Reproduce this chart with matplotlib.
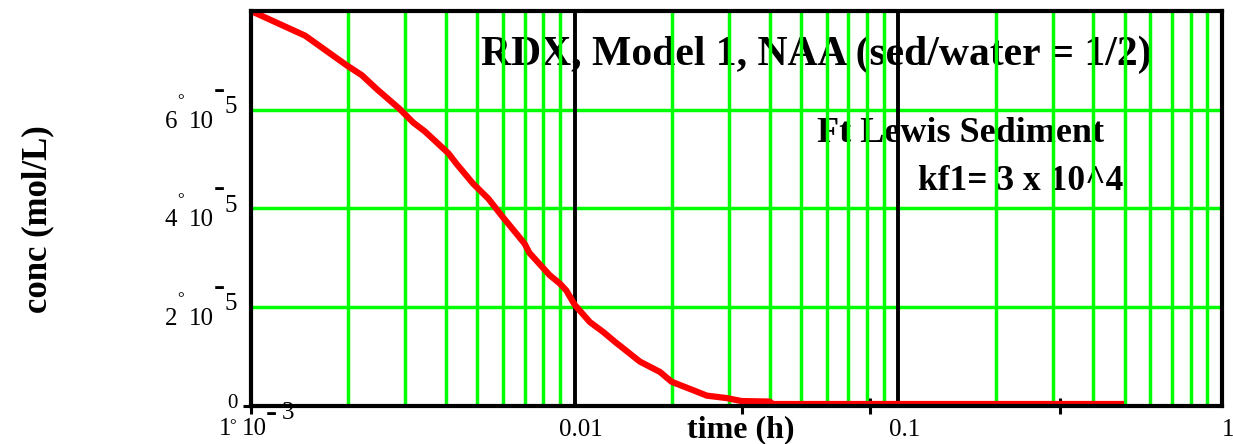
import matplotlib
matplotlib.use("Agg")
import matplotlib.pyplot as plt
import numpy as np
from matplotlib.ticker import NullFormatter
from matplotlib.transforms import ScaledTranslation, blended_transform_factory

# ---------------- data ----------------
time_h = [1.0e-3, 1.47e-3, 1.975e-3, 2.2e-3, 2.445e-3, 2.886e-3, 3.172e-3, 3.447e-3,
          4.07e-3, 4.32e-3, 4.86e-3, 5.41e-3, 5.94e-3, 7.0e-3, 7.25e-3, 8.37e-3,
          9.0e-3, 9.42e-3, 1.0e-2, 1.114e-2, 1.225e-2, 1.332e-2, 1.59e-2, 1.834e-2,
          1.994e-2, 2.323e-2, 2.56e-2, 2.95e-2, 3.28e-2, 4.0e-2, 4.1e-2, 0.487]
conc_mol_L = [8.00e-5, 7.50e-5, 6.90e-5, 6.70e-5, 6.42e-5, 6.01e-5, 5.74e-5, 5.56e-5,
              5.12e-5, 4.90e-5, 4.50e-5, 4.20e-5, 3.86e-5, 3.29e-5, 3.10e-5, 2.65e-5,
              2.48e-5, 2.34e-5, 2.05e-5, 1.70e-5, 1.50e-5, 1.30e-5, 0.90e-5, 0.69e-5,
              0.49e-5, 0.32e-5, 0.21e-5, 0.16e-5, 0.10e-5, 0.09e-5, 0.04e-5, 0.04e-5]

y_grid_values = [2e-5, 4e-5, 6e-5]
y_label_mantissas = ["2", "4", "6"]
y_label_exponent = "5"
x_tick_values = [1e-2, 1e-1, 1.0]
x_tick_labels = ["0.01", "0.1", "1"]
x_marker_ticks = [1e-3, 0.033, 0.082, 0.316]

title_text = "RDX, Model 1, NAA (sed/water = 1/2)"
note1_text = "Ft Lewis Sediment"
note2_text = "kf1= 3 x 10^4"
xlabel_text = "time (h)"
ylabel_text = "conc (mol/L)"

# ---------------- style ----------------
plt.rcParams["font.family"] = ["Liberation Serif", "DejaVu Serif"]
GREEN = "#00FF00"
RED = "#FF0000"
W, H = 1233, 444
fig = plt.figure(figsize=(W / 100, H / 100), dpi=100)
L, R, T, B = 251, 1222, 11, 406
ax = fig.add_axes([L / W, 1 - B / H, (R - L) / W, (B - T) / H])

ax.set_xscale("log")
ax.set_xlim(1e-3, 1.0)
ax.set_ylim(0, 8e-5)

# grid
decades = [1e-3, 1e-2, 1e-1]
minor_grid = [k * d for d in decades for k in range(2, 10)]
for xv in minor_grid:
    ax.axvline(xv, color=GREEN, lw=2.5, zorder=1)
for yv in y_grid_values:
    ax.axhline(yv, color=GREEN, lw=2.5, zorder=1)
for xv in decades[1:]:
    ax.axvline(xv, color="black", lw=2.8, zorder=1.2)

# curve
ax.plot(time_h, conc_mol_L, color=RED, lw=4.5, zorder=2, solid_joinstyle="round")

# spines
for s in ax.spines.values():
    s.set_linewidth(3)
    s.set_color("black")
    s.set_zorder(2.5)

# ticks
FS = 18
ax.set_xticks(x_tick_values)
ax.set_xticklabels(x_tick_labels)
ax.set_xticks(x_marker_ticks, minor=True)
ax.xaxis.set_minor_formatter(NullFormatter())
ax.tick_params(axis="x", which="major", length=0, pad=9, labelsize=FS)
ax.tick_params(axis="x", which="minor", direction="inout", length=12, width=2.2, color="black")
ax.set_yticks([])
ax.set_yticks([0], minor=True)
ax.yaxis.set_minor_formatter(NullFormatter())
ax.tick_params(axis="y", which="minor", direction="inout", length=12, width=2.2, color="black")
shift = ScaledTranslation(6 / 100, 0, fig.dpi_scale_trans)
for lab in ax.get_xticklabels():
    lab.set_transform(lab.get_transform() + shift)


def off(dx, dy):
    return ScaledTranslation(dx / 100, -dy / 100, fig.dpi_scale_trans)


ytr = blended_transform_factory(ax.transAxes, ax.transData)
for yv, m in zip(y_grid_values, y_label_mantissas):
    ax.text(0, yv, m, transform=ytr + off(-74, 18), ha="right", va="baseline", fontsize=FS, zorder=2)
    ax.text(0, yv, "°", transform=ytr + off(-70.5, -4.5), ha="center", va="baseline", fontsize=12, zorder=2)
    ax.text(0, yv, "10", transform=ytr + off(-62, 18), ha="left", va="baseline", fontsize=FS, zorder=2)
    ax.text(0, yv, "-", transform=ytr + off(-32, -11), ha="center", va="baseline", fontsize=24,
            fontweight="bold", zorder=2)
    ax.text(0, yv, y_label_exponent, transform=ytr + off(-26, 3), ha="left", va="baseline", fontsize=FS, zorder=2)
ax.text(0, 0, "0", transform=ytr + off(-13, 2), ha="right", va="baseline", fontsize=15, zorder=2)

# 1e-3 label on x axis
xtr = blended_transform_factory(ax.transData, ax.transAxes)
ax.text(1e-3, 0, "1", transform=xtr + off(-20, 29), ha="right", va="baseline", fontsize=FS, zorder=2)
ax.text(1e-3, 0, "°", transform=xtr + off(-18, 24), ha="center", va="baseline", fontsize=12, zorder=2)
ax.text(1e-3, 0, "10", transform=xtr + off(-9, 29), ha="left", va="baseline", fontsize=FS, zorder=2)
ax.text(1e-3, 0, "-", transform=xtr + off(20, 15.5), ha="center", va="baseline", fontsize=24,
        fontweight="bold", zorder=2)
ax.text(1e-3, 0, "3", transform=xtr + off(31, 13), ha="left", va="baseline", fontsize=FS, zorder=2)

# annotations (beneath the grid)
ax.text((481 - L) / (R - L), (B - 65) / (B - T), title_text, transform=ax.transAxes,
        ha="left", va="baseline", fontsize=30, fontweight="bold", zorder=0.5)
ax.text((817 - L) / (R - L), (B - 142) / (B - T), note1_text, transform=ax.transAxes,
        ha="left", va="baseline", fontsize=26, fontweight="bold", zorder=0.5)
ax.text((918 - L) / (R - L), (B - 190) / (B - T), note2_text, transform=ax.transAxes,
        ha="left", va="baseline", fontsize=25.5, fontweight="bold", zorder=0.5)

ax.set_xlabel(xlabel_text, fontsize=23, fontweight="bold", ha="center", va="center")
ax.xaxis.set_label_coords((741 - L) / (R - L), (B - 430) / (B - T))
ax.set_ylabel(ylabel_text, fontsize=25, fontweight="bold", ha="center", va="center")
ax.yaxis.set_label_coords((38 - L) / (R - L), (B - 219) / (B - T))

fig.savefig("out.png", dpi=100)
